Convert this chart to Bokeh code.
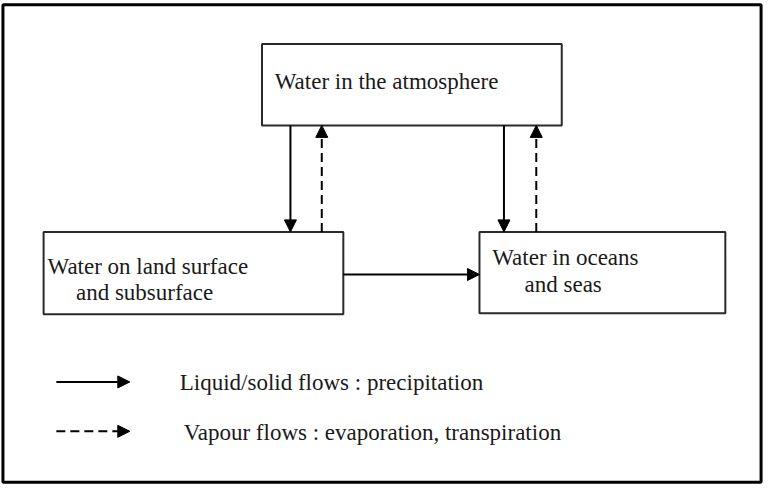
from bokeh.plotting import figure
from bokeh.models import Range1d, Arrow, NormalHead, ColumnDataSource
from bokeh.core.properties import value
from bokeh.embed import file_html
from bokeh.resources import INLINE

# Diagram content (reference pixel coordinates, y downward)
box_names = ["atmosphere", "land", "oceans"]
box_left = [267, 44, 489]
box_right = [573, 350, 740]
box_top = [45, 239, 239]
box_bottom = [129, 324, 323]

label_text = ["Water in the atmosphere", "Water on land surface", "and subsurface",
              "Water in oceans", "and seas",
              "Liquid/solid flows : precipitation",
              "Vapour flows : evaporation, transpiration"]
label_x = [280, 48, 77, 502, 535, 183, 187]
label_y = [84, 275, 302, 265, 293, 395, 446]

# flows: (x_start, y_start, x_end, y_end, dashed)
flow_x0 = [296, 328, 514, 547, 350, 57, 57]
flow_y0 = [129, 239, 129, 239, 283, 394, 445]
flow_x1 = [296, 328, 514, 547, 489, 132, 132]
flow_y1 = [239, 129, 239, 129, 283, 394, 445]
flow_dashed = [False, True, False, True, False, False, True]

W, H = 764, 486
p = figure(width=W, height=H, output_backend="svg", toolbar_location=None,
           x_range=Range1d(0, 780), y_range=Range1d(502, 0),
           min_border=0, min_border_left=0, min_border_right=0,
           min_border_top=0, min_border_bottom=0)
p.axis.visible = False
p.grid.visible = False
p.outline_line_color = None
p.background_fill_color = "white"
p.border_fill_color = "white"

# outer frame
p.quad(left=[2.5], right=[776.5], top=[4.5], bottom=[497.5],
       fill_color=None, line_color="black", line_width=3)

# boxes
p.quad(source=ColumnDataSource(dict(left=box_left, right=box_right,
                                    top=box_top, bottom=box_bottom)),
       left="left", right="right", top="top", bottom="bottom",
       fill_color="white", line_color="#2a2a2a", line_width=2)

# arrows
for x0, y0, x1, y1, d in zip(flow_x0, flow_y0, flow_x1, flow_y1, flow_dashed):
    head = NormalHead(size=12, fill_color="black", line_color="black", line_width=1)
    p.add_layout(Arrow(end=head, x_start=x0, y_start=y0, x_end=x1, y_end=y1,
                       line_color="black", line_width=2,
                       line_dash="9 5" if d else "solid"))

# labels
p.text(x=label_x, y=label_y, text=label_text,
       text_font=value("Liberation Serif"), text_font_size="23px",
       text_baseline="middle", text_align="left", text_color="#1a1a1a")

open("out.html", "w").write(file_html(p, INLINE))
